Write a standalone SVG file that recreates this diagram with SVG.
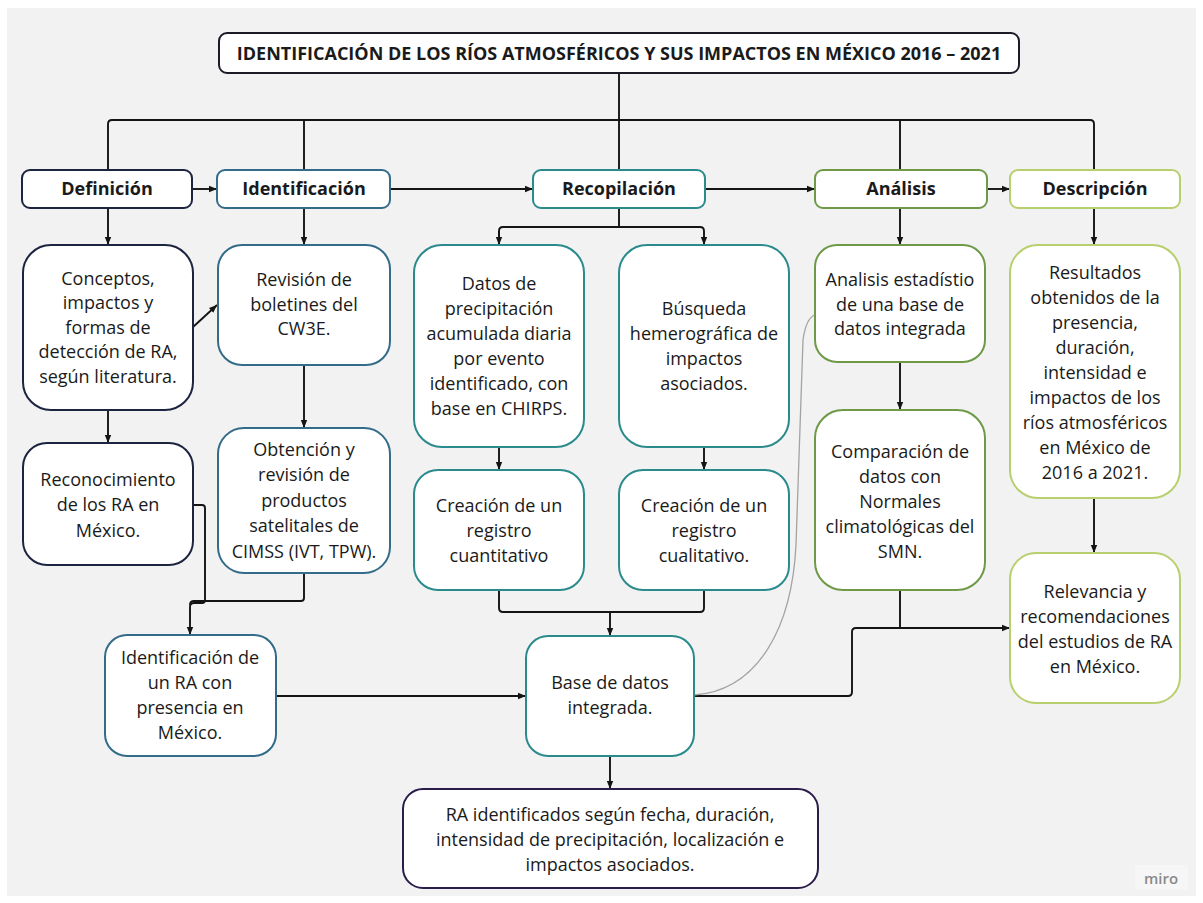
<svg xmlns="http://www.w3.org/2000/svg" width="1203" height="903" viewBox="0 0 1203 903">
<defs>
<style>
.b{fill:#fff;stroke-width:2}
.k{stroke:#1c1c28}
.n{stroke:#1d2440}
.s{stroke:#336b88}
.t{stroke:#2a8a8c}
.g{stroke:#6e9a48}
.y{stroke:#b8cf6e}
.p{stroke:#2b1d4a}
.h{font-family:"Open Sans","Noto Sans","Liberation Sans",sans-serif;font-weight:700;font-size:18px;fill:#1a1a1a;text-anchor:middle}
.x{font-family:"Open Sans","Noto Sans","Liberation Sans",sans-serif;font-size:18px;fill:#1a1a1a;text-anchor:middle}
.c{fill:none;stroke:#141414;stroke-width:1.9;stroke-linejoin:round}
</style>
<marker id="ah" viewBox="0 0 10 10" refX="10" refY="5" markerWidth="8" markerHeight="8" markerUnits="userSpaceOnUse" orient="auto"><path d="M0,1 L10,5 L0,9 z" fill="#141414"/></marker>
</defs>
<rect x="0" y="0" width="1203" height="903" fill="#ffffff"/>
<rect x="7" y="8" width="1189" height="888" fill="#f2f2f2"/>
<rect x="1135" y="865" width="53" height="25" fill="#f6f6f6"/>
<text x="1161" y="884" style="font-family:'Open Sans','Liberation Sans',sans-serif;font-size:15px;font-weight:600;fill:#8a8a8a;text-anchor:middle">miro</text>

<g id="connectors">
<path class="c" d="M619 73 V170"/>
<path class="c" d="M108 170 V124 Q108 120 112 120 H1090 Q1094 120 1094 124 V170"/>
<path class="c" d="M304 120 V170"/>
<path class="c" d="M900 120 V170"/>
<path class="c" d="M192 189 H217" marker-end="url(#ah)"/>
<path class="c" d="M390 189 H533" marker-end="url(#ah)"/>
<path class="c" d="M705 189 H815" marker-end="url(#ah)"/>
<path class="c" d="M987 189 H1010" marker-end="url(#ah)"/>
<path class="c" d="M108 208 V245" marker-end="url(#ah)"/>
<path class="c" d="M304 208 V245" marker-end="url(#ah)"/>
<path class="c" d="M619 208 V227 M499 245 V231 Q499 227 503 227 H700 Q704 227 704 231 V245" marker-end="url(#ah)"/>
<path class="c" d="M499 231 V245" marker-end="url(#ah)"/>
<path class="c" d="M900 208 V245" marker-end="url(#ah)"/>
<path class="c" d="M1094 208 V245" marker-end="url(#ah)"/>
<path class="c" d="M193 327 L217 305" marker-end="url(#ah)"/>
<path class="c" d="M108 410 V443" marker-end="url(#ah)"/>
<path class="c" d="M304 365 V428" marker-end="url(#ah)"/>
<path class="c" d="M499 447 V470" marker-end="url(#ah)"/>
<path class="c" d="M704 447 V470" marker-end="url(#ah)"/>
<path class="c" d="M900 362 V410" marker-end="url(#ah)"/>
<path class="c" d="M1094 498 V553" marker-end="url(#ah)"/>
<path class="c" d="M193 505 H202 Q205 505 205 508 V600 Q205 603 202 603 H194 Q190 603 190 607 V635" marker-end="url(#ah)"/>
<path class="c" d="M304 573 V598 Q304 601 301 601 H194 Q190 601 190 605"/>
<path class="c" d="M499 590 V608 Q499 612 503 612 H700 Q704 612 704 608 V590 M610 612 V636" marker-end="url(#ah)"/>
<path class="c" d="M276 696 H526" marker-end="url(#ah)"/>
<path class="c" d="M610 756 V789" marker-end="url(#ah)"/>
<path class="c" d="M694 696 H848 Q852 696 852 692 V632 Q852 628 856 628 H1010" marker-end="url(#ah)"/>
<path class="c" d="M900 590 V628"/>
<path d="M694 695 C760 690 792 625 796 545 L803 340 Q806 318 815 315" fill="none" stroke="#a3a3a3" stroke-width="1.3"/>
</g>

<g id="title"><rect class="b k" x="219" y="33" width="800" height="40" rx="8" stroke-width="2.4"/><text class="h" x="619" y="60">IDENTIFICACIÓN DE LOS RÍOS ATMOSFÉRICOS Y SUS IMPACTOS EN MÉXICO 2016 – 2021</text></g>

<g id="definicion"><rect class="b n" x="22" y="170" width="170" height="38" rx="8"/><text class="h" x="107" y="195">Definición</text></g>
<g id="identificacion"><rect class="b s" x="217" y="170" width="173" height="38" rx="8"/><text class="h" x="304" y="195">Identificación</text></g>
<g id="recopilacion"><rect class="b t" x="533" y="170" width="172" height="38" rx="8"/><text class="h" x="619" y="195">Recopilación</text></g>
<g id="analisis"><rect class="b g" x="815" y="170" width="172" height="38" rx="8"/><text class="h" x="901" y="195">Análisis</text></g>
<g id="descripcion"><rect class="b y" x="1010" y="170" width="170" height="38" rx="8"/><text class="h" x="1095" y="195">Descripción</text></g>

<g id="conceptos"><rect class="b n" x="23" y="245" width="170" height="165" rx="28"/>
<text class="x" x="108"><tspan x="108" y="285">Conceptos,</tspan><tspan x="108" y="309">impactos y</tspan><tspan x="108" y="334">formas de</tspan><tspan x="108" y="358">detección de RA,</tspan><tspan x="108" y="383">según literatura.</tspan></text></g>

<g id="revision"><rect class="b s" x="218" y="245" width="172" height="120" rx="24"/>
<text class="x"><tspan x="304" y="286">Revisión de</tspan><tspan x="304" y="311">boletines del</tspan><tspan x="304" y="335">CW3E.</tspan></text></g>

<g id="datos"><rect class="b t" x="414" y="245" width="170" height="202" rx="28"/>
<text class="x"><tspan x="499" y="290">Datos de</tspan><tspan x="499" y="315">precipitación</tspan><tspan x="499" y="340">acumulada diaria</tspan><tspan x="499" y="365">por evento</tspan><tspan x="499" y="390">identificado, con</tspan><tspan x="499" y="415">base en CHIRPS.</tspan></text></g>

<g id="busqueda"><rect class="b t" x="619" y="245" width="170" height="202" rx="28"/>
<text class="x"><tspan x="704" y="315">Búsqueda</tspan><tspan x="704" y="340">hemerográfica de</tspan><tspan x="704" y="365">impactos</tspan><tspan x="704" y="390">asociados.</tspan></text></g>

<g id="analisis-estadistico"><rect class="b g" x="815" y="245" width="170" height="117" rx="22"/>
<text class="x"><tspan x="900" y="286">Analisis estadístio</tspan><tspan x="900" y="311">de una base de</tspan><tspan x="900" y="335">datos integrada</tspan></text></g>

<g id="resultados"><rect class="b y" x="1010" y="245" width="170" height="253" rx="28"/>
<text class="x"><tspan x="1095" y="279">Resultados</tspan><tspan x="1095" y="304">obtenidos de la</tspan><tspan x="1095" y="329">presencia,</tspan><tspan x="1095" y="354">duración,</tspan><tspan x="1095" y="379">intensidad e</tspan><tspan x="1095" y="404">impactos de los</tspan><tspan x="1095" y="429">ríos atmosféricos</tspan><tspan x="1095" y="454">en México de</tspan><tspan x="1095" y="479">2016 a 2021.</tspan></text></g>

<g id="reconocimiento"><rect class="b n" x="23" y="443" width="170" height="122" rx="24"/>
<text class="x"><tspan x="108" y="486">Reconocimiento</tspan><tspan x="108" y="511">de los RA en</tspan><tspan x="108" y="537">México.</tspan></text></g>

<g id="obtencion"><rect class="b s" x="218" y="428" width="172" height="145" rx="26"/>
<text class="x"><tspan x="304" y="456">Obtención y</tspan><tspan x="304" y="481">revisión de</tspan><tspan x="304" y="507">productos</tspan><tspan x="304" y="532">satelitales de</tspan><tspan x="304" y="558">CIMSS (IVT, TPW).</tspan></text></g>

<g id="creacion-cuantitativo"><rect class="b t" x="414" y="470" width="170" height="120" rx="24"/>
<text class="x"><tspan x="499" y="512">Creación de un</tspan><tspan x="499" y="537">registro</tspan><tspan x="499" y="562">cuantitativo</tspan></text></g>

<g id="creacion-cualitativo"><rect class="b t" x="619" y="470" width="170" height="120" rx="24"/>
<text class="x"><tspan x="704" y="512">Creación de un</tspan><tspan x="704" y="537">registro</tspan><tspan x="704" y="562">cualitativo.</tspan></text></g>

<g id="comparacion"><rect class="b g" x="815" y="410" width="170" height="180" rx="28"/>
<text class="x"><tspan x="900" y="458">Comparación de</tspan><tspan x="900" y="483">datos con</tspan><tspan x="900" y="508">Normales</tspan><tspan x="900" y="533">climatológicas del</tspan><tspan x="900" y="558">SMN.</tspan></text></g>

<g id="relevancia"><rect class="b y" x="1010" y="553" width="170" height="150" rx="26"/>
<text class="x"><tspan x="1095" y="598">Relevancia y</tspan><tspan x="1095" y="623">recomendaciones</tspan><tspan x="1095" y="648">del estudios de RA</tspan><tspan x="1095" y="673">en México.</tspan></text></g>

<g id="identificacion-ra"><rect class="b s" x="105" y="635" width="171" height="121" rx="22"/>
<text class="x"><tspan x="190" y="664">Identificación de</tspan><tspan x="190" y="689">un RA con</tspan><tspan x="190" y="714">presencia en</tspan><tspan x="190" y="739">México.</tspan></text></g>

<g id="base-datos"><rect class="b t" x="526" y="636" width="168" height="120" rx="22"/>
<text class="x"><tspan x="610" y="689">Base de datos</tspan><tspan x="610" y="714">integrada.</tspan></text></g>

<g id="ra-identificados"><rect class="b p" x="403" y="789" width="415" height="99" rx="20"/>
<text class="x"><tspan x="610" y="821">RA identificados según fecha, duración,</tspan><tspan x="610" y="846">intensidad de precipitación, localización e</tspan><tspan x="610" y="871">impactos asociados.</tspan></text></g>
</svg>
